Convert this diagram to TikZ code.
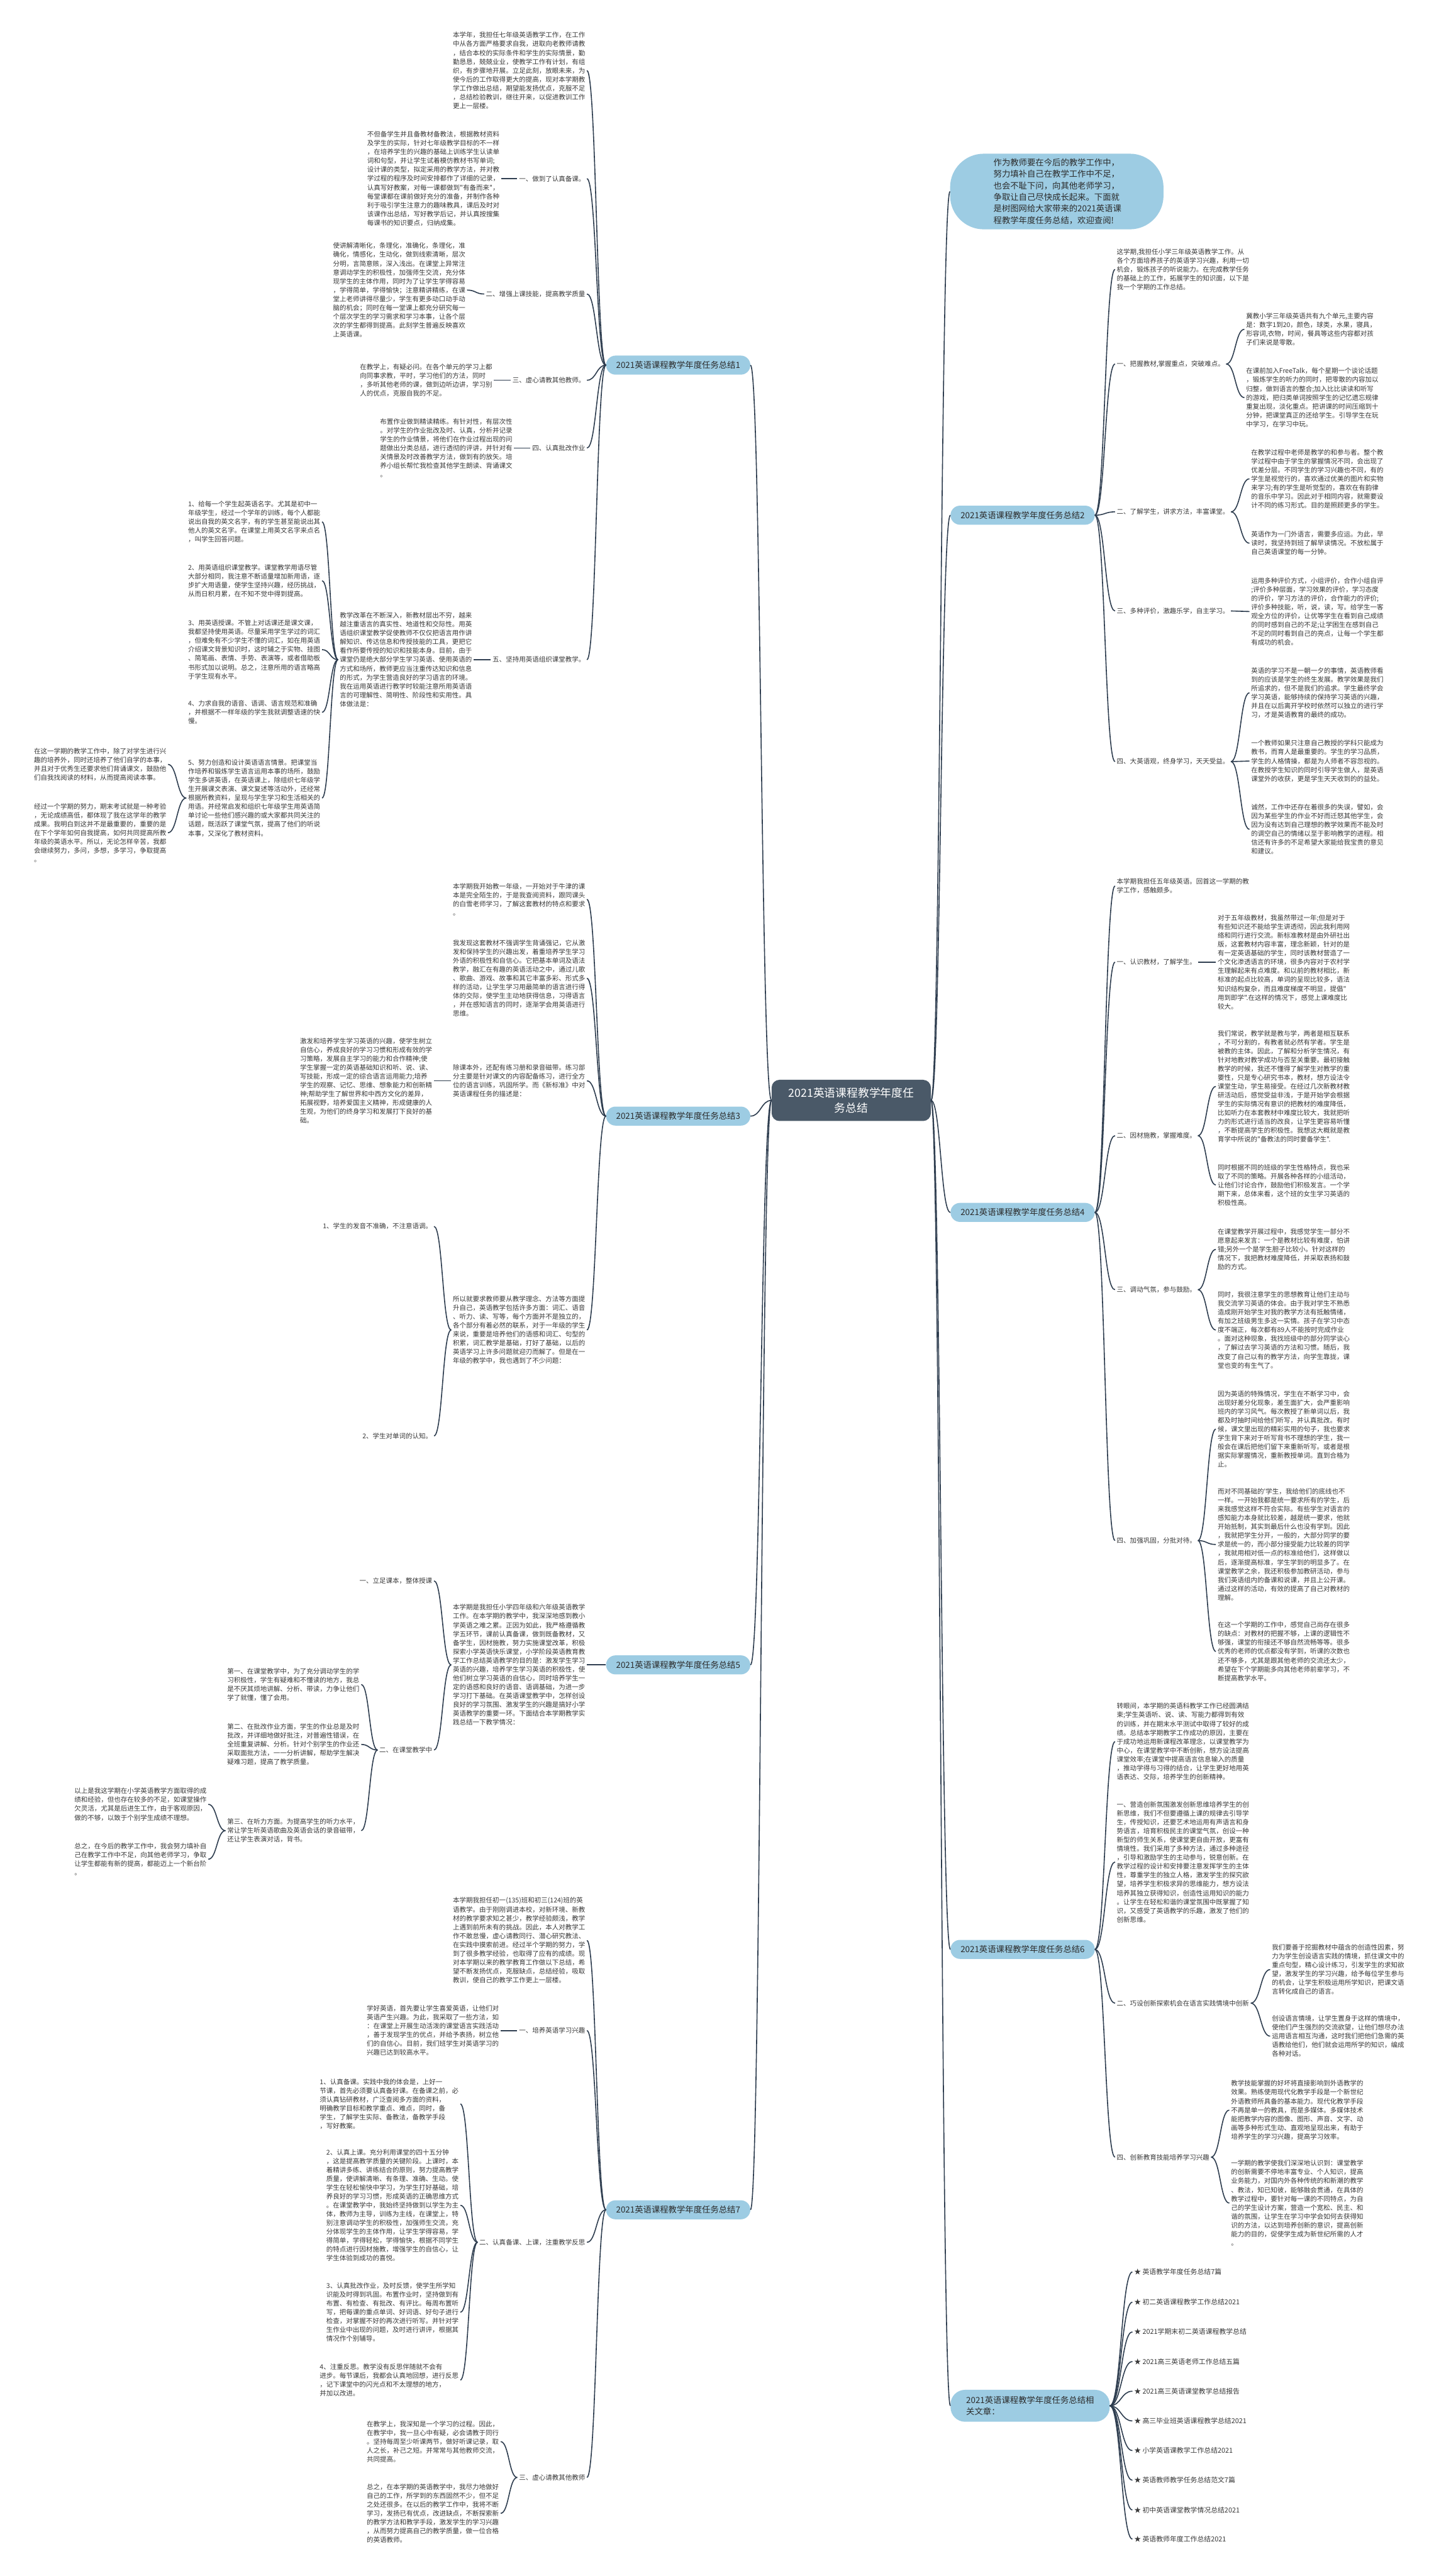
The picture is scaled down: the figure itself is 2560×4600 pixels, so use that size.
\documentclass[tikz,border=0pt]{standalone}
\usepackage{fontspec}
\newfontfamily\cjk{Noto Sans CJK SC}
\usetikzlibrary{calc}
\definecolor{linec}{HTML}{2E3D4F}
\definecolor{brfill}{HTML}{9DCCE3}
\definecolor{brtext}{HTML}{2B2B2B}
\definecolor{centerfill}{HTML}{4A5968}
\definecolor{txtc}{HTML}{383838}
\tikzset{
  link/.style={draw=linec, line width=1.8pt},
  txt/.style={font=\cjk\fontsize{11.8}{15.8}\selectfont, text=txtc, align=left, inner xsep=3pt, inner ysep=2pt},
  rtx/.style={txt, anchor=west},
  ltx/.style={txt, anchor=east},
  brn/.style={font=\cjk\fontsize{15}{20}\selectfont, fill=brfill, text=brtext, rounded corners=17pt, inner xsep=18pt, inner ysep=0pt, minimum height=34pt},
  centre/.style={font=\cjk\fontsize{20}{27}\selectfont, fill=centerfill, text=white, rounded corners=14pt, align=center, inner xsep=30pt, inner ysep=14pt},
  intro/.style={font=\cjk\fontsize{15}{20.6}\selectfont, fill=brfill, text=brtext, rounded corners=60pt, align=left, text width=226pt, minimum width=381pt, minimum height=135pt},
  rel/.style={font=\cjk\fontsize{12.2}{15}\selectfont, text=txtc, anchor=west, inner xsep=3pt}
}
\newcommand\lkR[2]{\draw[link] (#1.east) .. controls ($(#1.east)!0.5!(#1.east -| #2.west)$) and ($(#2.west)!0.5!(#2.west -| #1.east)$) .. (#2.west);}
\newcommand\lkL[2]{\draw[link] (#1.west) .. controls ($(#1.west)!0.5!(#1.west -| #2.east)$) and ($(#2.east)!0.5!(#2.east -| #1.west)$) .. (#2.east);}
\begin{document}
\begin{tikzpicture}[x=1pt,y=-1pt]
\fill[white] (0,0) rectangle (2560,4600);
\useasboundingbox (0,0) rectangle (2560,4600);
% centre
\node[centre] (c) at (1520,1965) {2021英语课程教学年度任\\务总结};
% ---------------- right side
\node[intro] (intro) at (1887,342) {作为教师要在今后的教学工作中，\\努力填补自己在教学工作中不足，\\也会不耻下问，向其他老师学习，\\争取让自己尽快成长起来。下面就\\是树图网给大家带来的2021英语课\\程教学年度任务总结，欢迎查阅!};
\node[brn, anchor=west] (b2) at (1697,920) {2021英语课程教学年度任务总结2};
\node[brn, anchor=west] (b4) at (1697,2165) {2021英语课程教学年度任务总结4};
\node[brn, anchor=west] (b6) at (1697,3481) {2021英语课程教学年度任务总结6};
\node[brn, anchor=west, align=left, inner xsep=28pt, minimum height=57pt, rounded corners=26pt] (b8) at (1697,4296) {2021英语课程教学年度任务总结相\\关文章：};
% branch 2
\node[rtx] (b2a) at (1991,481) {这学期,我担任小学三年级英语教学工作。从\\各个方面培养孩子的英语学习兴趣，利用一切\\机会，锻炼孩子的听说能力。在完成教学任务\\的基础上的工作，拓展学生的知识面，以下是\\我一个学期的工作总结。};
\node[rtx] (b2b) at (1991,650) {一、把握教材,掌握重点，突破难点。};
\node[rtx] (b2b1) at (2222,588) {冀教小学三年级英语共有九个单元,主要内容\\是：数字1到20，颜色，球类，水果，寝具，\\形容词,衣物，时间，餐具等这些内容都对孩\\子们来说是零散。};
\node[rtx] (b2b2) at (2222,710) {在课前加入FreeTalk，每个星期一个谈论话题\\，锻炼学生的听力的同时，把零散的内容加以\\归整，做到语言的整合;加入比比读读和听写\\的游戏，把归类单词按照学生的记忆遗忘规律\\重复出现，淡化重点。把讲课的时间压缩到十\\分钟，把课堂真正的还给学生。引导学生在玩\\中学习，在学习中玩。};
\node[rtx] (b2c) at (1991,914) {二、了解学生，讲求方法，丰富课堂。};
\node[rtx] (b2c1) at (2231,855) {在教学过程中老师是教学的和参与者。整个教\\学过程中由于学生的掌握情况不同，会出现了\\优差分层。不同学生的学习兴趣也不同，有的\\学生是视觉行的，喜欢通过优美的图片和实物\\来学习;有的学生是听觉型的，喜欢在有韵律\\的音乐中学习。因此对于相同内容，就需要设\\计不同的练习形式。目的是照顾更多的学生。};
\node[rtx] (b2c2) at (2231,970) {英语作为一门外语言，需要多应运。为此，早\\读时，我坚持到班了解早读情况。不放松属于\\自己英语课堂的每一分钟。};
\node[rtx] (b2d) at (1991,1091) {三、多种评价，激趣乐学，自主学习。};
\node[rtx] (b2d1) at (2231,1092) {运用多种评价方式，小组评价，合作小组自评\\;评价多种层面，学习效果的评价，学习态度\\的评价，学习方法的评价，合作能力的评价;\\评价多种技能，听，说，读，写。给学生一客\\观全方位的评价，让优等学生在看到自己成绩\\的同时感到自己的不足;让学困生在感到自己\\不足的同时看到自己的亮点，让每一个学生都\\有成功的机会。};
\node[rtx] (b2e) at (1991,1360) {四、大英语观，终身学习，天天受益。};
\node[rtx] (b2e1) at (2231,1237) {英语的学习不是一朝一夕的事情，英语教师看\\到的应该是学生的终生发展。教学效果是我们\\所追求的，但不是我们的追求。学生最终学会\\学习英语，能够持续的保持学习英语的兴趣，\\并且在以后离开学校时依然可以独立的进行学\\习，才是英语教育的最终的成功。};
\node[rtx] (b2e2) at (2231,1359) {一个教师如果只注意自己教授的学科只能成为\\教书，而育人是最重要的。学生的学习品质，\\学生的人格情操，都是为人师者不容忽视的。\\在教授学生知识的同时引导学生做人，是英语\\课堂外的收获，更是学生天天收到的的益处。};
\node[rtx] (b2e3) at (2231,1481) {诚然，工作中还存在着很多的失误，譬如，会\\因为某些学生的作业不好而迁怒其他学生，会\\因为没有达到自己理想的教学效果而不能及时\\的调空自己的情绪以至于影响教学的进程。相\\信还有许多的不足希望大家能给我宝贵的意见\\和建议。};
% branch 4
\node[rtx] (b4a) at (1991,1582) {本学期我担任五年级英语。回首这一学期的教\\学工作，感触颇多。};
\node[rtx] (b4b) at (1991,1718) {一、认识教材，了解学生。};
\node[rtx] (b4b1) at (2171,1718) {对于五年级教材，我虽然带过一年;但是对于\\有些知识还不能给学生讲透彻，因此我利用网\\络和同行进行交流。新标准教材是由外研社出\\版，这套教材内容丰富，理念新颖，针对的是\\有一定英语基础的学生，同时该教材营造了一\\个文化渗透语言的环境，很多内容对于农村学\\生理解起来有点难度。和以前的教材相比，新\\标准的起点比较高，单词的呈现比较多，语法\\知识结构复杂，而且难度梯度不明显，提倡"\\用到即学".在这样的情况下，感觉上课难度比\\较大。};
\node[rtx] (b4c) at (1991,2028) {二、因材施教，掌握难度。};
\node[rtx] (b4c1) at (2171,1940) {我们常说，教学就是教与学，两者是相互联系\\，不可分割的，有教者就必然有学者。学生是\\被教的主体。因此，了解和分析学生情况，有\\针对地教对教学成功与否至关重要。最初接触\\教学的时候，我还不懂得了解学生对教学的重\\要性，只是专心研究书本，教材，想方设法令\\课堂生动，学生易接受。在经过几次新教材教\\研活动后，感觉受益非浅，于是开始学会根据\\学生的实际情况有意识的把教材的难度降低，\\比如听力在本套教材中难度比较大，我就把听\\力的形式进行适当的改良，让学生更容易听懂\\，不断提高学生的积极性。我想这大概就是教\\育学中所说的"备教法的同时要备学生".};
\node[rtx] (b4c2) at (2171,2116) {同时根据不同的班级的学生性格特点，我也采\\取了不同的策略。开展各种各样的小组活动，\\让他们讨论合作，鼓励他们积极发言。一个学\\期下来，总体来看，这个班的女生学习英语的\\积极性高。};
\node[rtx] (b4d) at (1991,2303) {三、调动气氛，参与鼓励。};
\node[rtx] (b4d1) at (2171,2231) {在课堂教学开展过程中，我感觉学生一部分不\\愿意起来发言：一个是教材比较有难度，怕讲\\错;另外一个是学生胆子比较小。针对这样的\\情况下，我把教材难度降低，并采取表扬和鼓\\励的方式。};
\node[rtx] (b4d2) at (2171,2375) {同时，我很注意学生的思想教育让他们主动与\\我交流学习英语的体会。由于我对学生不熟悉\\造成刚开始学生对我的教学方法有抵触情绪，\\有加之班级男生多这一实情。孩子在学习中态\\度不端正，每次都有89人不能按时完成作业\\。面对这种现象，我找班级中的部分同学谈心\\，了解过去学习英语的方法和习惯。随后，我\\改变了自己以有的教学方法，向学生靠拢，课\\堂也变的有生气了。};
\node[rtx] (b4e) at (1991,2751) {四、加强巩固，分批对待。};
\node[rtx] (b4e1) at (2171,2552) {因为英语的特殊情况，学生在不断学习中，会\\出现好差分化现象，差生面扩大，会严重影响\\班内的学习风气。每次教授了新单词以后，我\\都及时抽时间给他们听写，并认真批改。有时\\候，课文里出现的精彩实用的句子，我也要求\\学生背下来对于听写背书不理想的学生，我一\\般会在课后把他们留下来重新听写。或者是根\\据实际掌握情况，重新教授单词。直到合格为\\止。};
\node[rtx] (b4e2) at (2171,2758) {而对不同基础的'学生，我给他们的底线也不\\一样。一开始我都是统一要求所有的学生，后\\来我感觉这样不符合实际。有些学生对语言的\\感知能力本身就比较差，越是统一要求，他就\\开始抵制，其实到最后什么也没有学到。因此\\，我就把学生分开，一般的，大部分同学的要\\求是统一的，而小部分接受能力比较差的同学\\，我就用相对低一点的标准给他们，这样做以\\后，逐渐提高标准，学生学到的明显多了。在\\课堂教学之余，我还积极参加教研活动，参与\\我们英语组内的备课和说课，并且上公开课。\\通过这样的活动，有效的提高了自己对教材的\\理解。};
\node[rtx] (b4e3) at (2171,2949) {在这一个学期的工作中，感觉自己尚存在很多\\的缺点：对教材的把握不够，上课的逻辑性不\\够强，课堂的衔接还不够自然流畅等等。很多\\优秀的老师的优点都没有学到，听课的次数也\\还不够多，尤其是跟其他老师的交流还太少，\\希望在下个学期能多向其他老师前辈学习，不\\断提高教学水平。};
% branch 6
\node[rtx] (b6a) at (1991,3110) {转眼间，本学期的英语科教学工作已经圆满结\\束;学生英语听、说、读、写能力都得到有效\\的训练，并在期末水平测试中取得了较好的成\\绩。总结本学期教学工作成功的原因，主要在\\于成功地运用新课程改革理念，以课堂教学为\\中心，在课堂教学中不断创新，想方设法提高\\课堂效率;在课堂中提高语言信息输入的质量\\，推动学得与习得的结合，让学生更好地用英\\语表达、交际，培养学生的创新精神。};
\node[rtx] (b6b) at (1991,3325) {一、营造创新氛围激发创新思维培养学生的创\\新思维，我们不但要遵循上课的规律去引导学\\生，传授知识，还要艺术地运用有声语言和身\\势语言，培育积极民主的课堂气氛，创设一种\\新型的师生关系，使课堂更自由开放，更富有\\情境性。我们采用了多种方法，通过多种途径\\，引导和激励学生的主动参与，锐意创新。在\\教学过程的设计和安排要注意发挥学生的主体\\性，尊重学生的独立人格，激发学生的探究欲\\望，培养学生积极求异的思维能力，想方设法\\培养其独立获得知识，创造性运用知识的能力\\。让学生在轻松和谐的课堂氛围中既掌握了知\\识，又感受了英语教学的乐趣，激发了他们的\\创新思维。};
\node[rtx] (b6c) at (1991,3577) {二、巧设创新探索机会在语言实践情境中创新};
\node[rtx] (b6c1) at (2268,3517) {我们要善于挖掘教材中蕴含的创造性因素，努\\力为学生创设语言实践的情境，抓住课文中的\\重点句型，精心设计练习，引发学生的求知欲\\望，激发学生的学习兴趣，给予每位学生参与\\的机会，让学生积极运用所学知识，把课文语\\言转化成自己的语言。};
\node[rtx] (b6c2) at (2268,3636) {创设语言情境，让学生置身于这样的情境中，\\使他们产生强烈的交流欲望，让他们想尽办法\\运用语言相互沟通，这时我们把他们急需的英\\语教给他们，他们就会运用所学的知识，编成\\各种对话。};
\node[rtx] (b6d) at (1991,3852) {四、创新教育技能培养学习兴趣};
\node[rtx] (b6d1) at (2195,3768) {教学技能掌握的好坏将直接影响到外语教学的\\效果。熟练使用现代化教学手段是一个新世纪\\外语教师所具备的基本能力。现代化教学手段\\不再是单一的教具，而是多媒体。多媒体技术\\能把教学内容的图像、图形、声音、文字、动\\画等多种形式生动、直观地呈现出来，有助于\\培养学生的学习兴趣，提高学习效率。};
\node[rtx] (b6d2) at (2195,3934) {一学期的教学使我们深深地认识到：课堂教学\\的创新需要不停地丰富专业、个人知识，提高\\业务能力，对国内外各种传统的和新潮的教学\\、教法，知已知彼，能够融会贯通，在具体的\\教学过程中，要针对每一课的不同特点，为自\\己的学生设计方案，营造一个宽松、民主、和\\谐的氛围，让学生在学习中学会如何去获得知\\识的方法，以达到培养创新的意识，提高创新\\能力的目的，促使学生成为新世纪所需的人才\\。};
% related
\node[rel] (r1) at (2022,4057) {★ 英语教学年度任务总结7篇};
\node[rel] (r2) at (2022,4111) {★ 初二英语课程教学工作总结2021};
\node[rel] (r3) at (2022,4164) {★ 2021学期末初二英语课程教学总结};
\node[rel] (r4) at (2022,4217) {★ 2021高三英语老师工作总结五篇};
\node[rel] (r5) at (2022,4270) {★ 2021高三英语课堂教学总结报告};
\node[rel] (r6) at (2022,4323) {★ 高三毕业班英语课程教学总结2021};
\node[rel] (r7) at (2022,4376) {★ 小学英语课教学工作总结2021};
\node[rel] (r8) at (2022,4429) {★ 英语教师教学任务总结范文7篇};
\node[rel] (r9) at (2022,4482) {★ 初中英语课堂教学情况总结2021};
\node[rel] (r10) at (2022,4534) {★ 英语教师年度工作总结2021};
% ---------------- left side
\node[brn, anchor=east] (b1) at (1340,652) {2021英语课程教学年度任务总结1};
\node[brn, anchor=east] (b3) at (1340,1993) {2021英语课程教学年度任务总结3};
\node[brn, anchor=east] (b5) at (1340,2973) {2021英语课程教学年度任务总结5};
\node[brn, anchor=east] (b7) at (1340,3946) {2021英语课程教学年度任务总结7};
% branch 1
\node[ltx] (b1a) at (1048,126) {本学年，我担任七年级英语教学工作，在工作\\中从各方面严格要求自我，进取向老教师请教\\，结合本校的实际条件和学生的实际情景，勤\\勤恳恳，兢兢业业，使教学工作有计划，有组\\织，有步骤地开展。立足此刻，放眼未来，为\\使今后的工作取得更大的提高，现对本学期教\\学工作做出总结，期望能发扬优点，克服不足\\，总结检验教训，继往开来，以促进教训工作\\更上一层楼。};
\node[ltx] (b1b) at (1048,319) {一、做到了认真备课。};
\node[ltx] (b1b1) at (895,319) {不但备学生并且备教材备教法，根据教材资料\\及学生的实际，针对七年级教学目标的不一样\\，在培养学生的兴趣的基础上训练学生认读单\\词和句型，并让学生试着模仿教材书写单词;\\设计课的类型，拟定采用的教学方法，并对教\\学过程的程序及时间安排都作了详细的记录，\\认真写好教案，对每一课都做到"有备而来"，\\每堂课都在课前做好充分的准备，并制作各种\\利于吸引学生注意力的趣味教具，课后及时对\\该课作出总结，写好教学后记，并认真按搜集\\每课书的知识要点，归纳成集。};
\node[ltx] (b1c) at (1048,525) {二、增强上课技能，提高教学质量};
\node[ltx] (b1c1) at (834,518) {使讲解清晰化，条理化，准确化，条理化，准\\确化，情感化，生动化，做到线索清晰，层次\\分明，言简意赅，深入浅出。在课堂上异常注\\意调动学生的积极性，加强师生交流，充分体\\现学生的主体作用，同时为了让学生学得容易\\，学得简单，学得愉快；注意精讲精练，在课\\堂上老师讲得尽量少，学生有更多动口动手动\\脑的机会；同时在每一堂课上都充分研究每一\\个层次学生的学习需求和学习本事，让各个层\\次的学生都得到提高。此刻学生普遍反映喜欢\\上英语课。};
\node[ltx] (b1d) at (1048,679) {三、虚心请教其他教师。};
\node[ltx] (b1d1) at (882,679) {在教学上，有疑必问。在各个单元的学习上都\\向同事求教，平时，学习他们的方法，同时\\，多听其他老师的课，做到边听边讲，学习别\\人的优点，克服自我的不足。};
\node[ltx] (b1e) at (1048,800) {四、认真批改作业};
\node[ltx] (b1e1) at (918,800) {布置作业做到精读精练。有针对性，有层次性\\。对学生的作业批改及时、认真，分析并记录\\学生的作业情景，将他们在作业过程出现的问\\题做出分类总结，进行透彻的评讲，并针对有\\关情景及时改善教学方法，做到有的放矢。培\\养小组长帮忙我检查其他学生朗读、背诵课文\\。};
\node[ltx] (b1f) at (1048,1178) {五、坚持用英语组织课堂教学。};
\node[ltx] (b1f1) at (846,1178) {教学改革在不断深入，新教材层出不穷，越来\\越注重语言的真实性、地道性和交际性。用英\\语组织课堂教学促使教师不仅仅把语言用作讲\\解知识、传达信息和传授技能的工具，更把它\\看作所要传授的知识和技能本身。目前，由于\\课堂仍是绝大部分学生学习英语、使用英语的\\方式和场所，教师更应当注重传达知识和信息\\的形式，为学生营造良好的学习语言的环境。\\我在运用英语进行教学时较能注意所用英语语\\言的可理解性、简明性、阶段性和实用性。具\\体做法是：};
\node[ltx] (i1) at (575,932) {1、给每一个学生起英语名字。尤其是初中一\\年级学生，经过一个学年的训练，每个人都能\\说出自我的英文名字，有的学生甚至能说出其\\他人的英文名字。在课堂上用英文名字来点名\\，叫学生回答问题。};
\node[ltx] (i2) at (575,1037) {2、用英语组织课堂教学。课堂教学用语尽管\\大部分相同，我注意不断适量增加新用语，逐\\步扩大用语量，使学生坚持兴趣，经历挑战，\\从而日积月累，在不知不觉中得到提高。};
\node[ltx] (i3) at (575,1160) {3、用英语授课。不管上对话课还是课文课，\\我都坚持使用英语。尽量采用学生学过的词汇\\，但难免有不少学生不懂的词汇，如在用英语\\介绍课文背景知识时，这时辅之于实物、挂图\\、简笔画、表情、手势、表演等，或者借助板\\书形式加以说明。总之，注意所用的语言略高\\于学生现有水平。};
\node[ltx] (i4) at (575,1272) {4、力求自我的语音、语调、语言规范和准确\\，并根据不一样年级的学生我就调整语速的快\\慢。};
\node[ltx] (i5) at (575,1425) {5、努力创造和设计英语语言情景。把课堂当\\作培养和锻炼学生语言运用本事的场所，鼓励\\学生多讲英语，在英语课上，除组织七年级学\\生开展课文表演、课文复述等活动外，还经常\\根据所教资料，呈现与学生学习和生活相关的\\用语。并经常启发和组织七年级学生用英语简\\单讨论一些他们感兴趣的或大家都共同关注的\\话题，既活跃了课堂气氛，提高了他们的听说\\本事，又深化了教材资料。};
\node[ltx] (i5a) at (300,1365) {在这一学期的教学工作中，除了对学生进行兴\\趣的培养外，同时还培养了他们自学的本事，\\并且对于优秀生还要求他们背诵课文，鼓励他\\们自我找阅读的材料，从而提高阅读本事。};
\node[ltx] (i5b) at (300,1487) {经过一个学期的努力，期末考试就是一种考验\\，无论成绩高低，都体现了我在这学年的教学\\成果。我明白到这并不是最重要的，重要的是\\在下个学年如何自我提高，如何共同提高所教\\年级的英语水平。所以，无论怎样辛苦，我都\\会继续努力，多问，多想，多学习，争取提高\\。};
% branch 3
\node[ltx] (b3a) at (1048,1606) {本学期我开始教一年级，一开始对于牛津的课\\本是完全陌生的，于是我查阅资料，跟同课头\\的白雪老师学习，了解这套教材的特点和要求\\。};
\node[ltx] (b3b) at (1048,1747) {我发现这套教材不强调学生背诵强记，它从激\\发和保持学生的兴趣出发，着重培养学生学习\\外语的积极性和自信心。它把基本单词及语法\\教学，融汇在有趣的英语活动之中，通过儿歌\\、歌曲、游戏、故事和其它丰富多彩、形式多\\样的活动，让学生学习用最简单的语言进行得\\体的交际，使学生主动地获得信息，习得语言\\，并在感知语言的同时，逐渐学会用英语进行\\思维。};
\node[ltx] (b3c) at (1048,1930) {除课本外，还配有练习册和录音磁带。练习部\\分主要是针对课文的内容配备练习，进行全方\\位的语言训练，巩固所学。而《新标准》中对\\英语课程任务的描述是：};
\node[ltx] (b3c1) at (775,1930) {激发和培养学生学习英语的兴趣，使学生树立\\自信心，养成良好的学习习惯和形成有效的学\\习策略，发展自主学习的能力和合作精神;使\\学生掌握一定的英语基础知识和听、说、读、\\写技能，形成一定的综合语言运用能力;培养\\学生的观察、记忆、思维、想象能力和创新精\\神;帮助学生了解世界和中西方文化的差异，\\拓展视野，培养爱国主义精神，形成健康的人\\生观，为他们的终身学习和发展打下良好的基\\础。};
\node[ltx] (b3d) at (1048,2375) {所以就要求教师要从教学理念、方法等方面提\\升自己，英语教学包括许多方面：词汇、语音\\、听力、读、写等，每个方面并不是独立的，\\各个部分有着必然的联系，对于一年级的学生\\来说，重要是培养他们的语感和词汇、句型的\\积累，词汇教学是基础，打好了基础，以后的\\英语学习上许多问题就迎刃而解了。但是在一\\年级的教学中，我也遇到了不少问题：};
\node[ltx] (b3d1) at (775,2190) {1、学生的发音不准确，不注意语调。};
\node[ltx] (b3d2) at (775,2564) {2、学生对单词的认知。};
% branch 5
\node[ltx] (b5a) at (1048,2973) {本学期是我担任小学四年级和六年级英语教学\\工作。在本学期的教学中，我深深地感到教小\\学英语之难之累。正因为如此，我严格遵循教\\学五环节，课前认真备课，做到既备教材，又\\备学生，因材施教，努力实施课堂改革，积极\\探索小学英语快乐课堂，小学阶段英语教育教\\学工作总结英语教学的目的是：激发学生学习\\英语的兴趣，培养学生学习英语的积极性，使\\他们树立学习英语的自信心，同时培养学生一\\定的语感和良好的语音、语调基础，为进一步\\学习打下基础。在英语课堂教学中，怎样创设\\良好的学习氛围、激发学生的兴趣是搞好小学\\英语教学的重要一环。下面结合本学期教学实\\践总结一下教学情况：};
\node[ltx] (b5a1) at (775,2823) {一、立足课本，整体授课};
\node[ltx] (b5a2) at (775,3125) {二、在课堂教学中};
\node[ltx] (b5b1) at (645,3008) {第一、在课堂教学中，为了充分调动学生的学\\习积极性，学生有疑难和不懂读的地方，我总\\是不厌其烦地讲解、分析、带读，力争让他们\\学了就懂，懂了会用。};
\node[ltx] (b5b2) at (645,3115) {第二、在批改作业方面，学生的作业总是及时\\批改，并详细地做好批注，对普遍性错误，在\\全班重复讲解、分析。针对个别学生的作业还\\采取面批方法，一一分析讲解，帮助学生解决\\疑难习题，提高了教学质量。};
\node[ltx] (b5b3) at (645,3269) {第三、在听力方面。为提高学生的听力水平，\\常让学生听英语歌曲及英语会话的录音磁带，\\还让学生表演对话，背书。};
\node[ltx] (b5c1) at (372,3222) {以上是我这学期在小学英语教学方面取得的成\\绩和经验，但也存在较多的不足，如课堂操作\\欠灵活，尤其是后进生工作，由于客观原因，\\做的不够，以致于个别学生成绩不理想。};
\node[ltx] (b5c2) at (372,3320) {总之，在今后的教学工作中，我会努力填补自\\己在教学工作中不足，向其他老师学习，争取\\让学生都能有新的提高，都能迈上一个新台阶\\。};
% branch 7
\node[ltx] (b7a) at (1048,3465) {本学期我担任初一(135)班和初三(124)班的英\\语教学。由于刚刚调进本校，对新环境、新教\\材的教学要求知之甚少，教学经验颇浅，教学\\上遇到前所未有的挑战。因此，本人对教学工\\作不敢怠慢，虚心请教同行、潜心研究教法、\\在实践中摸索前进。经过半个学期的努力，学\\到了很多教学经验，也取得了应有的成绩。现\\对本学期以来的教学教育工作做以下总结，希\\望不断发扬优点，克服缺点，总结经验，吸取\\教训，使自己的教学工作更上一层楼。};
\node[ltx] (b7b) at (1048,3626) {一、培养英语学习兴趣};
\node[ltx] (b7b1) at (894,3626) {学好英语，首先要让学生喜爱英语，让他们对\\英语产生兴趣。为此，我采取了一些方法，如\\：在课堂上开展生动活泼的课堂语言实践活动\\，善于发现学生的优点，并给予表扬，树立他\\们的自信心。目前，我们班学生对英语学习的\\兴趣已达到较高水平。};
\node[ltx] (b7c) at (1048,4004) {二、认真备课、上课，注重教学反思};
\node[ltx] (b7c1) at (822,3757) {1、认真备课。实践中我的体会是，上好一\\节课，首先必须要认真备好课。在备课之前，必\\须认真钻研教材，广泛查阅多方面的资料，\\明确教学目标和教学重点、难点，同时，备\\学生，了解学生实际、备教法，备教学手段\\，写好教案。};
\node[ltx] (b7c2) at (822,3938) {2、认真上课。充分利用课堂的四十五分钟\\，这是提高教学质量的关键阶段。上课时，本\\着精讲多练、讲练结合的原则，努力提高教学\\质量，使讲解清晰、有条理、准确、生动。使\\学生在轻松愉快中学习，为学生打好基础，培\\养良好的学习习惯，形成英语的正确思维方式\\。在课堂教学中，我始终坚持做到以学生为主\\体，教师为主导，训练为主线，在课堂上，特\\别注意调动学生的积极性，加强师生交流，充\\分体现学生的主体作用，让学生学得容易，学\\得简单，学得轻松，学得愉快，根据不同学生\\的特点进行因材施教，增强学生的自信心，让\\学生体验到成功的喜悦。};
\node[ltx] (b7c3) at (822,4129) {3、认真批改作业，及时反馈，使学生所学知\\识能及时得到巩固。布置作业时，坚持做到有\\布置、有检查、有批改、有评比。每周布置听\\写，把每课的重点单词、好词语、好句子进行\\检查，对掌握不好的再次进行听写。并针对学\\生作业中出现的问题，及时进行讲评，根据其\\情况作个别辅导。};
\node[ltx] (b7c4) at (822,4250) {4、注重反思。教学没有反思伴随就不会有\\进步。每节课后，我都会认真地回想，进行反思\\，记下课堂中的闪光点和不太理想的地方，\\并加以改进。};
\node[ltx] (b7d) at (1048,4424) {三、虚心请教其他教师};
\node[ltx] (b7d1) at (894,4360) {在教学上，我深知是一个学习的过程。因此，\\在教学中，我一旦心中有疑，必会请教于同行\\。坚持每周至少听课两节，做好听课记录，取\\人之长，补己之短。并常常与其他教师交流，\\共同提高。};
\node[ltx] (b7d2) at (894,4488) {总之，在本学期的英语教学中，我尽力地做好\\自己的工作，所学到的东西固然不少，但不足\\之处还很多。在以后的教学工作中，我将不断\\学习，发扬已有优点，改进缺点，不断探索新\\的教学方法和教学手段，激发学生的学习兴趣\\，从而努力提高自己的教学质量，做一位合格\\的英语教师。};
% ---------------- links
\lkR{c}{intro}\lkR{c}{b2}\lkR{c}{b4}\lkR{c}{b6}\lkR{c}{b8}
\lkL{c}{b1}\lkL{c}{b3}\lkL{c}{b5}\lkL{c}{b7}
\lkR{b2}{b2a}\lkR{b2}{b2b}\lkR{b2}{b2c}\lkR{b2}{b2d}\lkR{b2}{b2e}
\lkR{b2b}{b2b1}\lkR{b2b}{b2b2}\lkR{b2c}{b2c1}\lkR{b2c}{b2c2}\lkR{b2d}{b2d1}
\lkR{b2e}{b2e1}\lkR{b2e}{b2e2}\lkR{b2e}{b2e3}
\lkR{b4}{b4a}\lkR{b4}{b4b}\lkR{b4}{b4c}\lkR{b4}{b4d}\lkR{b4}{b4e}
\lkR{b4b}{b4b1}\lkR{b4c}{b4c1}\lkR{b4c}{b4c2}\lkR{b4d}{b4d1}\lkR{b4d}{b4d2}
\lkR{b4e}{b4e1}\lkR{b4e}{b4e2}\lkR{b4e}{b4e3}
\lkR{b6}{b6a}\lkR{b6}{b6b}\lkR{b6}{b6c}\lkR{b6}{b6d}
\lkR{b6c}{b6c1}\lkR{b6c}{b6c2}\lkR{b6d}{b6d1}\lkR{b6d}{b6d2}
\foreach \i in {1,...,10}{\lkR{b8}{r\i}}
\lkL{b1}{b1a}\lkL{b1}{b1b}\lkL{b1}{b1c}\lkL{b1}{b1d}\lkL{b1}{b1e}\lkL{b1}{b1f}
\lkL{b1b}{b1b1}\lkL{b1c}{b1c1}\lkL{b1d}{b1d1}\lkL{b1e}{b1e1}\lkL{b1f}{b1f1}
\lkL{b1f1}{i1}\lkL{b1f1}{i2}\lkL{b1f1}{i3}\lkL{b1f1}{i4}\lkL{b1f1}{i5}
\lkL{i5}{i5a}\lkL{i5}{i5b}
\lkL{b3}{b3a}\lkL{b3}{b3b}\lkL{b3}{b3c}\lkL{b3}{b3d}
\lkL{b3c}{b3c1}\lkL{b3d}{b3d1}\lkL{b3d}{b3d2}
\lkL{b5}{b5a}\lkL{b5a}{b5a1}\lkL{b5a}{b5a2}
\lkL{b5a2}{b5b1}\lkL{b5a2}{b5b2}\lkL{b5a2}{b5b3}
\lkL{b5b3}{b5c1}\lkL{b5b3}{b5c2}
\lkL{b7}{b7a}\lkL{b7}{b7b}\lkL{b7}{b7c}\lkL{b7}{b7d}
\lkL{b7b}{b7b1}\lkL{b7c}{b7c1}\lkL{b7c}{b7c2}\lkL{b7c}{b7c3}\lkL{b7c}{b7c4}
\lkL{b7d}{b7d1}\lkL{b7d}{b7d2}
\end{tikzpicture}
\end{document}
